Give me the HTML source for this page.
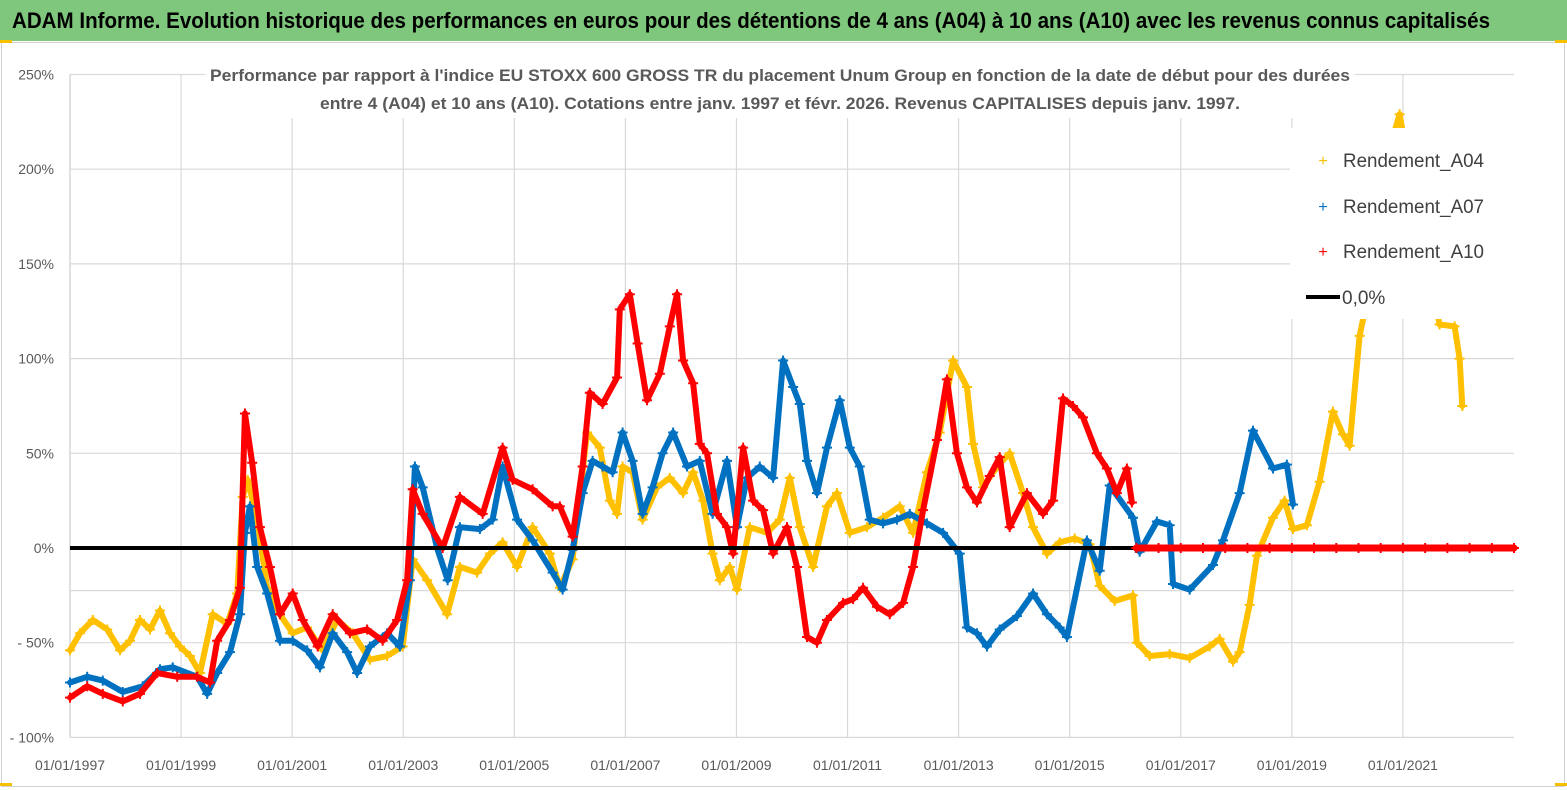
<!DOCTYPE html>
<html><head><meta charset="utf-8">
<style>
html,body{margin:0;padding:0;background:#fff;}
svg{display:block;font-family:"Liberation Sans",sans-serif;}
</style></head>
<body>
<svg id="chart" width="1567" height="790" viewBox="0 0 1567 790" xmlns="http://www.w3.org/2000/svg">
<rect x="0" y="0" width="1567" height="790" fill="#fff"/>
<rect x="0" y="0" width="1567" height="41" fill="#7fc77c"/>
<text x="12" y="28" font-size="22" font-weight="bold" fill="#000" textLength="1478" lengthAdjust="spacingAndGlyphs">ADAM Informe. Evolution historique des performances en euros pour des détentions de 4 ans (A04) à 10 ans (A10) avec les revenus connus capitalisés</text>
<rect x="1.5" y="42.5" width="1563" height="744" fill="none" stroke="#d0d0d0" stroke-width="1"/>
<rect x="0" y="40" width="12" height="3" fill="#f5c000"/>
<rect x="1555" y="40" width="12" height="3" fill="#f5c000"/>
<rect x="0" y="783" width="12" height="3" fill="#f5c000"/>
<rect x="1555" y="783" width="12" height="3" fill="#f5c000"/>
<g id="grid"></g>
<g id="series"></g>
<g id="axes"></g>
<rect x="205" y="56" width="1150" height="62" fill="#fff"/>
<text x="210" y="81" font-size="17" font-weight="bold" fill="#595959" textLength="1140" lengthAdjust="spacingAndGlyphs">Performance par rapport à l'indice EU STOXX 600 GROSS TR  du placement Unum Group en fonction de la date de début pour des durées</text>
<text x="320" y="109" font-size="17" font-weight="bold" fill="#595959" textLength="920" lengthAdjust="spacingAndGlyphs">entre 4 (A04) et 10 ans (A10). Cotations entre janv. 1997 et févr. 2026. Revenus CAPITALISES depuis janv. 1997.</text>
<g id="legend">
<rect x="1290" y="128" width="226" height="191" fill="#fff"/>
<text x="1323" y="166" font-size="16" fill="#f5c000" text-anchor="middle">+</text>
<text x="1343" y="167" font-size="19" fill="#404040" textLength="141" lengthAdjust="spacingAndGlyphs">Rendement_A04</text>
<text x="1323" y="212" font-size="16" fill="#0070c0" text-anchor="middle">+</text>
<text x="1343" y="213" font-size="19" fill="#404040" textLength="141" lengthAdjust="spacingAndGlyphs">Rendement_A07</text>
<text x="1323" y="257" font-size="16" fill="#ff0000" text-anchor="middle">+</text>
<text x="1343" y="258" font-size="19" fill="#404040" textLength="141" lengthAdjust="spacingAndGlyphs">Rendement_A10</text>
<line x1="1306" y1="297" x2="1340" y2="297" stroke="#000" stroke-width="4"/>
<text x="1342" y="304" font-size="19" fill="#404040">0,0%</text>
</g>
</svg>
<script>
// ---- data ----
const yTicks = [-100, -50, 0, 50, 100, 150, 200, 250];
const yTickLabels = ["- 100%", "- 50%", "0%", "50%", "100%", "150%", "200%", "250%"];
const xTicks = [1997, 1999, 2001, 2003, 2005, 2007, 2009, 2011, 2013, 2015, 2017, 2019, 2021];
const xTickLabels = ["01/01/1997","01/01/1999","01/01/2001","01/01/2003","01/01/2005","01/01/2007","01/01/2009","01/01/2011","01/01/2013","01/01/2015","01/01/2017","01/01/2019","01/01/2021"];

const a04Dates = [1997.00,1997.18,1997.41,1997.67,1997.90,1998.08,1998.26,1998.44,1998.62,1998.80,1998.98,1999.16,1999.34,1999.57,1999.83,2000.01,2000.11,2000.20,2000.37,2000.55,2000.78,2001.01,2001.27,2001.55,2001.81,2002.09,2002.40,2002.71,2002.99,2003.17,2003.43,2003.79,2004.02,2004.33,2004.56,2004.79,2005.05,2005.33,2005.64,
2005.82,2006.05,2006.31,2006.54,2006.72,2006.85,2006.95,2007.13,2007.31,2007.57,2007.80,2008.04,2008.22,2008.40,2008.57,2008.70,2008.88,2009.01,2009.24,2009.55,2009.78,2009.96,2010.14,2010.38,2010.63,2010.81,2011.04,2011.35,2011.64,2011.94,2012.18,2012.43,2012.66,2012.90,2013.15,2013.26,2013.44,2013.69,2013.92,2014.16,2014.34,2014.59,
2014.82,2015.09,2015.36,2015.54,2015.81,2016.14,2016.21,2016.44,2016.80,2017.16,2017.52,2017.70,2017.94,2018.06,2018.24,2018.37,2018.66,2018.87,2019.02,2019.27,2019.50,2019.74,2019.92,2020.04,2020.22,2020.49,2020.85,2020.94,2021.30,2021.66,2021.93,2022.02,2022.07];
const a04Values = [-54,-45,-38,-43,-54,-49,-38,-43,-33,-45,-52,-57,-66,-35,-40,-24,27,36,15,-21,-35,-45,-42,-54,-38,-45,-59,-57,-52,-6,-17,-35,-10,-13,-3,3,-10,11,-3,
-21,-6,61,53,25,18,43,40,15,32,37,29,40,25,-3,-17,-10,-22,11,8,15,37,11,-10,22,29,8,11,16,22,8,40,61,99,85,55,32,43,50,29,11,-3,
3,5,2,-20,-28,-25,-50,-57,-56,-58,-52,-48,-60,-55,-30,-4,16,25,10,12,35,72,60,54,112,150,220,229,170,118,117,100,75];

const a07Dates = [1997.00,1997.31,1997.59,1997.95,1998.31,1998.62,1998.85,1999.29,1999.47,1999.65,1999.88,2000.06,2000.15,2000.24,2000.37,2000.55,2000.78,2001.01,2001.27,2001.50,2001.73,2001.99,2002.17,2002.40,2002.71,2002.94,2003.12,2003.21,2003.35,2003.61,2003.80,2004.02,2004.38,2004.61,2004.79,2005.05,2005.33,2005.69,2005.87,
2006.05,2006.23,2006.41,2006.59,2006.77,2006.95,2007.13,2007.31,2007.49,2007.67,2007.86,2008.11,2008.34,2008.57,2008.83,2009.01,2009.19,2009.42,2009.66,2009.84,2010.02,2010.14,2010.27,2010.45,2010.63,2010.86,2011.04,2011.22,2011.40,2011.64,2011.89,2012.12,2012.43,2012.72,2013.02,2013.15,2013.33,2013.51,2013.74,2014.05,2014.34,2014.59,2014.82,
2014.95,2015.31,2015.54,2015.72,2016.14,2016.26,2016.57,2016.80,2016.86,2017.16,2017.58,2017.76,2018.06,2018.30,2018.66,2018.91,2019.02];
const a07Values = [-71,-68,-70,-76,-73,-64,-63,-68,-77,-66,-55,-35,8,22,-10,-24,-49,-49,-54,-63,-45,-55,-66,-52,-45,-52,-17,43,32,0,-17,11,10,15,43,15,4,-13,-22,
-1,29,46,43,40,61,46,18,32,50,61,43,46,18,46,11,37,43,37,99,85,76,46,29,53,78,53,43,15,13,15,18,13,8,-3,-42,-45,-52,-43,-36,-24,-35,-42,
-47,4,-12,33,16,-2,14,12,-19,-22,-9,4,29,62,42,44,23];

const a10Dates = [1997.00,1997.31,1997.59,1997.95,1998.26,1998.57,1998.93,1999.29,1999.52,1999.65,1999.88,2000.06,2000.15,2000.28,2000.42,2000.60,2000.78,2001.01,2001.19,2001.46,2001.73,2002.04,2002.35,2002.63,2002.89,2003.07,2003.17,2003.35,2003.71,2004.02,2004.43,2004.79,2004.97,2005.33,2005.69,
2005.82,2006.05,2006.23,2006.36,2006.59,2006.85,2006.90,2007.08,2007.22,2007.39,2007.62,2007.80,2007.93,2008.04,2008.22,2008.34,2008.47,2008.65,2008.83,2008.94,2009.12,2009.30,2009.48,2009.66,2009.91,2010.09,2010.27,2010.45,2010.63,2010.92,2011.10,2011.28,2011.53,2011.76,2012.00,2012.18,2012.36,2012.61,2012.79,2012.97,2013.15,2013.33,2013.56,2013.74,2013.92,2014.23,2014.52,2014.70,2014.88,2015.06,2015.24,2015.49,2015.67,2015.85,2016.03,2016.12];
const a10Values = [-79,-73,-77,-81,-77,-66,-68,-68,-71,-49,-38,-21,71,45,11,-10,-35,-24,-38,-52,-35,-45,-43,-49,-38,-17,31,18,0,27,18,53,36,31,22,
22,6,43,82,76,90,126,134,108,78,92,117,134,99,87,55,50,18,11,-3,53,25,20,-3,11,-10,-47,-50,-38,-29,-27,-21,-31,-35,-29,-10,20,57,89,50,32,24,38,48,11,29,18,25,79,75,69,50,42,29,42,24];
const a10TailDates = [2016.2,2016.6,2017.0,2017.4,2017.8,2018.2,2018.6,2019.0,2019.4,2019.8,2020.2,2020.6,2021.0,2021.4,2021.8,2022.2,2022.6,2023.0];
const a10TailValues = [0,0,0,0,0,0,0,0,0,0,0,0,0,0,0,0,0,0];
const zeroLineDates = [1997.0, 2016.15];

// ---- scales ----
const X0 = 70, X1 = 1514, Y0 = 548, PX_PER_PCT = 1.894;
function xs(yr){ return X0 + (yr - 1997) * (X1 - X0) / 26; }
function ys(v){ return Y0 - v * PX_PER_PCT; }
const NS = "http://www.w3.org/2000/svg";
function mk(tag, attrs, parent){ const e = document.createElementNS(NS, tag); for (const k in attrs) e.setAttribute(k, attrs[k]); parent.appendChild(e); return e; }

const grid = document.getElementById('grid');
const axes = document.getElementById('axes');
const series = document.getElementById('series');

// gridlines
yTicks.forEach(function(t){
  const l = mk('line', {x1: X0, x2: X1, y1: ys(t), y2: ys(t), stroke: '#d9d9d9', 'stroke-width': 1.2}, grid);
  
  
});
const minor = mk('line', {x1: X0, x2: X1, y1: ys(-22.5), y2: ys(-22.5), stroke: '#d9d9d9', 'stroke-width': 1.2}, grid);


xTicks.forEach(function(t){
  const l = mk('line', {x1: xs(t), x2: xs(t), y1: ys(250), y2: ys(-100), stroke: '#d9d9d9', 'stroke-width': 1.2}, grid);
  
  
});
const yAxis = mk('line', {x1: X0, x2: X0, y1: ys(250), y2: ys(-100), stroke: '#d9d9d9', 'stroke-width': 1.5}, grid);



// tick labels
yTicks.forEach(function(t, i){
  const e = mk('text', {x: 54, y: ys(t) + 5, 'font-size': 14, fill: '#595959', 'text-anchor': 'end'}, axes);
  e.textContent = yTickLabels[i];
  
  
});
xTicks.forEach(function(t, i){
  const e = mk('text', {x: xs(t), y: 770, 'font-size': 14, fill: '#595959', 'text-anchor': 'middle'}, axes);
  e.textContent = xTickLabels[i];
  
  
});

function drawSeries(dates, vals, color, name, lw){
  const g = mk('g', {}, series);
  
  
  let d = '';
  dates.forEach(function(t, i){ d += (i ? 'L' : 'M') + xs(t).toFixed(1) + ' ' + ys(vals[i]).toFixed(1); });
  const p = mk('path', {d: d, fill: 'none', stroke: color, 'stroke-width': lw, 'stroke-linejoin': 'round', 'stroke-linecap': 'round'}, g);
  
  
  dates.forEach(function(t, i){
    const cx = xs(t), cy = ys(vals[i]);
    const m = mk('path', {d: 'M' + (cx - 5) + ' ' + cy + 'H' + (cx + 5) + 'M' + cx + ' ' + (cy - 5) + 'V' + (cy + 5), stroke: color, 'stroke-width': 2}, g);
    
    
  });
}
drawSeries(a04Dates, a04Values, '#ffc000', 'series-a04', 6);
drawSeries(a07Dates, a07Values, '#0070c0', 'series-a07', 6);
drawSeries(a10Dates, a10Values, '#ff0000', 'series-a10', 6);

const zl = mk('line', {x1: xs(zeroLineDates[0]), x2: xs(zeroLineDates[1]), y1: ys(0), y2: ys(0), stroke: '#000', 'stroke-width': 4}, series);



drawSeries(a10TailDates, a10TailValues, '#ff0000', 'series-a10-tail', 7);
</script>
</body></html>
